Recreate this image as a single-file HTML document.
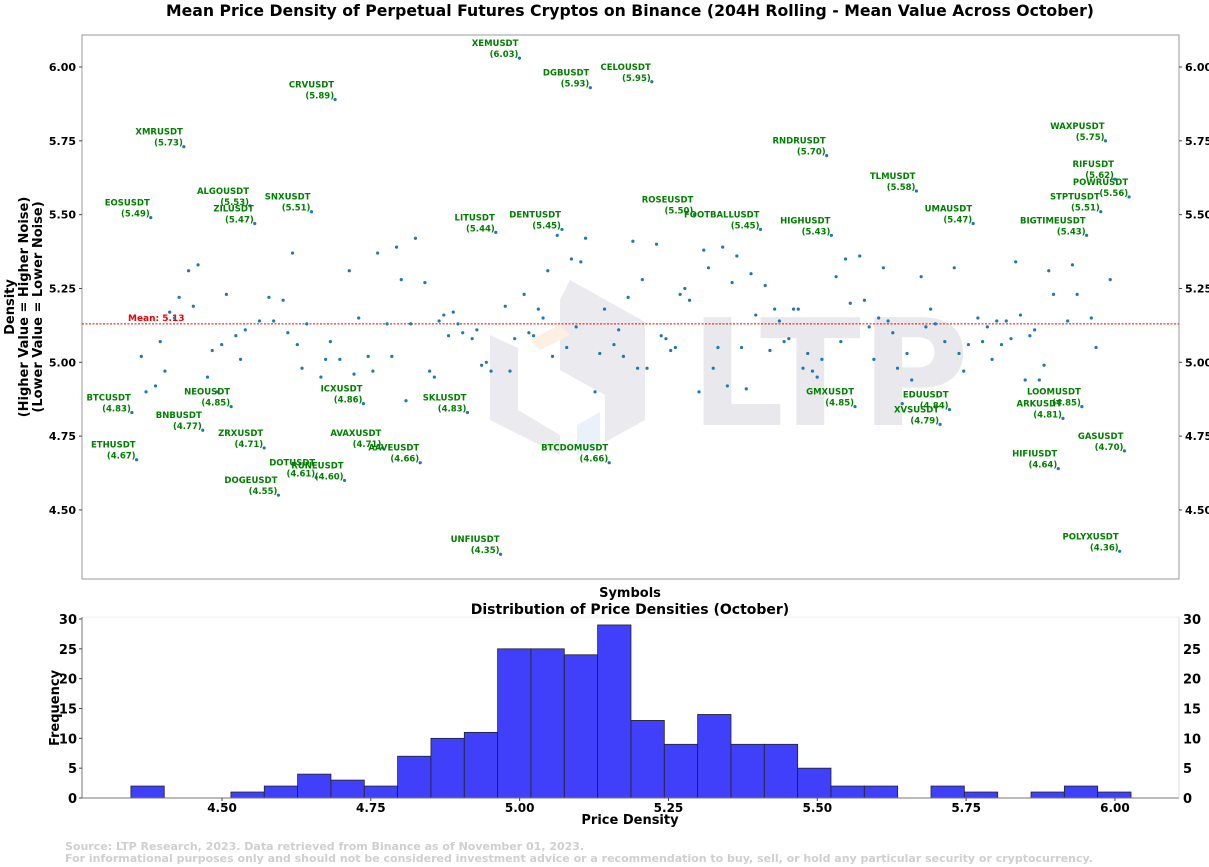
<!DOCTYPE html>
<html><head><meta charset="utf-8"><style>
html,body{margin:0;padding:0;background:#fff}
svg{display:block;font-family:"DejaVu Sans","Liberation Sans",sans-serif}
</style></head><body>
<svg id="chart" width="1209" height="867" viewBox="0 0 1209 867" xmlns="http://www.w3.org/2000/svg">
<text x="630" y="16" text-anchor="middle" font-size="15.7" font-weight="bold">Mean Price Density of Perpetual Futures Cryptos on Binance (204H Rolling - Mean Value Across October)</text>
<g opacity="0.9">
<polygon points="570,280 645,322 645,420 605,442 605,395 560,370 560,300" fill="#e8e8ee"/>
<polygon points="490,335 518,348 518,410 560,435 560,455 490,420" fill="#e8e8ee"/>
<polygon points="530,340 560,325 570,335 540,350" fill="#fdeede"/>
<polygon points="577,425 600,412 600,448 577,455" fill="#e8f0fb"/>
<text x="690" y="425" font-size="148" font-weight="bold" fill="#e6e6ec">LTP</text>
</g>
<g id="scatter"></g>
<g id="hist"></g>
<text transform="translate(14,307) rotate(-90)" text-anchor="middle" font-size="13" font-weight="bold"><tspan x="0" dy="0">Density</tspan><tspan x="0" dy="14">(Higher Value = Higher Noise)</tspan><tspan x="0" dy="14">(Lower Value = Lower Noise)</tspan></text>
<text x="630" y="597" text-anchor="middle" font-size="13" font-weight="bold">Symbols</text>
<text x="630" y="614" text-anchor="middle" font-size="14" font-weight="bold">Distribution of Price Densities (October)</text>
<text transform="translate(59,708) rotate(-90)" text-anchor="middle" font-size="13" font-weight="bold">Frequency</text>
<text x="630" y="824" text-anchor="middle" font-size="13" font-weight="bold">Price Density</text>
<text x="65" y="850" font-size="11" font-weight="bold" fill="#cfcfcf">Source: LTP Research, 2023. Data retrieved from Binance as of November 01, 2023.</text>
<text x="65" y="862" font-size="11" font-weight="bold" fill="#cfcfcf">For informational purposes only and should not be considered investment advice or a recommendation to buy, sell, or hold any particular security or cryptocurrency.</text>
</svg>
<script>
const values=[4.83,4.67,5.02,4.90,5.49,4.92,5.07,4.97,5.17,5.15,
5.22,5.73,5.31,5.19,5.33,4.77,4.95,5.04,4.90,5.06,
5.23,4.85,5.09,5.01,5.11,5.53,5.47,5.14,4.71,5.22,
5.14,4.55,5.21,5.10,5.37,5.06,4.98,5.13,5.51,4.61,
4.95,5.01,5.07,5.89,5.01,4.60,5.31,4.96,5.15,4.86,
5.02,4.97,5.37,4.71,5.13,5.02,5.39,5.28,4.87,5.13,
5.42,4.66,5.27,4.97,4.95,5.14,5.16,5.09,5.17,5.13,
5.10,4.83,5.08,5.11,4.99,5.00,4.97,5.44,4.35,5.19,
4.97,5.08,6.03,5.23,5.10,5.09,5.18,5.15,5.31,5.02,
5.43,5.45,5.05,5.35,5.12,5.34,5.42,5.93,4.90,5.03,
5.18,4.66,5.06,5.11,5.02,5.22,5.41,4.98,5.28,4.98,
5.95,5.40,5.09,5.08,5.04,5.05,5.23,5.25,5.21,5.50,
4.90,5.38,5.32,4.98,5.05,5.39,4.92,5.27,5.36,5.05,
4.91,5.30,5.16,5.45,5.26,5.04,5.18,5.14,5.07,5.08,
5.18,5.18,4.98,5.03,4.97,4.95,5.01,5.70,5.43,5.29,
5.07,5.35,5.20,4.85,5.36,5.21,5.12,5.01,5.15,5.32,
5.14,5.10,4.98,4.86,5.03,4.94,5.58,5.29,5.12,5.18,
5.13,4.79,5.07,4.84,5.32,5.03,4.97,5.06,5.47,5.15,
5.07,5.12,5.01,5.14,5.06,5.14,5.08,5.34,5.16,4.94,
5.09,5.11,4.94,4.99,5.31,5.23,4.64,4.81,5.14,5.33,
5.23,4.85,5.43,5.15,5.05,5.51,5.75,5.28,5.62,4.36,
4.70,5.56];
const labels={0:"BTCUSDT",1:"ETHUSDT",4:"EOSUSDT",11:"XMRUSDT",15:"BNBUSDT",21:"NEOUSDT",25:"ALGOUSDT",26:"ZILUSDT",28:"ZRXUSDT",31:"DOGEUSDT",38:"SNXUSDT",39:"DOTUSDT",43:"CRVUSDT",45:"RUNEUSDT",49:"ICXUSDT",53:"AVAXUSDT",61:"AAVEUSDT",71:"SKLUSDT",77:"LITUSDT",78:"UNFIUSDT",82:"XEMUSDT",91:"DENTUSDT",97:"DGBUSDT",101:"BTCDOMUSDT",110:"CELOUSDT",119:"ROSEUSDT",133:"FOOTBALLUSDT",147:"RNDRUSDT",148:"HIGHUSDT",153:"GMXUSDT",166:"TLMUSDT",171:"XVSUSDT",173:"EDUUSDT",178:"UMAUSDT",196:"HIFIUSDT",197:"ARKUSDT",201:"LOOMUSDT",202:"BIGTIMEUSDT",205:"STPTUSDT",206:"WAXPUSDT",208:"RIFUSDT",209:"POLYXUSDT",210:"GASUSDT",211:"POWRUSDT"};
const yTicks=[4.50,4.75,5.00,5.25,5.50,5.75,6.00];
const meanValue=5.13;
const histCounts=[2,0,0,1,2,4,3,2,7,10,11,25,25,24,29,13,9,14,9,9,5,2,2,0,2,1,0,1,2,1];
const histMin=4.347, histMax=6.027;
const histXTicks=[4.50,4.75,5.00,5.25,5.50,5.75,6.00];
const histYTicks=[0,5,10,15,20,25,30];
const NS="http://www.w3.org/2000/svg";
function mk(tag,attrs,parent){const e=document.createElementNS(NS,tag);for(const k in attrs)e.setAttribute(k,attrs[k]);parent.appendChild(e);return e;}
const A={l:82,r:1179,t:35,b:579};
const yS=v=>67+(6-v)*295.3;
const n=values.length;
const xS=i=>A.l+(A.r-A.l)*(0.05*(n-1)+i)/((n-1)*1.1);
const sc=document.getElementById('scatter');
const frame=mk('rect',{x:A.l,y:A.t,width:A.r-A.l,height:A.b-A.t,fill:'none',stroke:'#999','stroke-width':1},sc);


yTicks.forEach(t=>{const y=yS(t);
 const a=mk('text',{x:A.l-6,y:y+4,'text-anchor':'end','font-size':11,'font-weight':'bold'},sc);a.textContent=t.toFixed(2);
 
 
 const b=mk('text',{x:A.r+6,y:y+4,'font-size':11,'font-weight':'bold'},sc);b.textContent=t.toFixed(2);
 
 
 mk('line',{x1:A.l-3,x2:A.l,y1:y,y2:y,stroke:'#444'},sc);mk('line',{x1:A.r,x2:A.r+3,y1:y,y2:y,stroke:'#444'},sc);
});
const ml=mk('line',{x1:A.l,x2:A.r,y1:yS(meanValue),y2:yS(meanValue),stroke:'#e00','stroke-width':1,'stroke-dasharray':'2,1.5'},sc);


const mt=mk('text',{x:128,y:yS(meanValue)-3,fill:'#e00','font-size':9,'font-weight':'bold'},sc);mt.textContent='Mean: '+meanValue.toFixed(2);


values.forEach((v,i)=>{
 const c=mk('circle',{cx:xS(i),cy:yS(v),r:1.6,fill:'#1f77b4'},sc);
 
 
 if(labels[i]){
  const t=mk('text',{'text-anchor':'end','font-size':8.5,'font-weight':'bold',fill:'#008000'},sc);
  
  
  const x=xS(i)-1,y=yS(v)-1;
  const s1=mk('tspan',{x:x,y:y-11},t);s1.textContent=labels[i];
  const s2=mk('tspan',{x:x,y:y},t);s2.textContent='('+v.toFixed(2)+')';
 }
});
const H={l:82,r:1179,t:617,b:798};
const hx=v=>222+(v-4.5)*595.3;
const hy=c=>798-c*5.967;
const hg=document.getElementById('hist');
mk('line',{x1:H.l,x2:H.r,y1:H.t,y2:H.t,stroke:'#eee'},hg);
const bw=(histMax-histMin)/histCounts.length;
histCounts.forEach((c,i)=>{if(!c)return;const x0=hx(histMin+i*bw),x1=hx(histMin+(i+1)*bw);
 const r=mk('rect',{x:x0,y:hy(c),width:x1-x0,height:hy(0)-hy(c),fill:'#4040fa',stroke:'#222','stroke-width':0.8},hg);
 
 
});
mk('line',{x1:H.l,x2:H.r,y1:H.b,y2:H.b,stroke:'#777'},hg);
mk('line',{x1:H.l,x2:H.l,y1:H.t,y2:H.b,stroke:'#777'},hg);
mk('line',{x1:H.r,x2:H.r,y1:H.t,y2:H.b,stroke:'#ddd'},hg);
histYTicks.forEach(t=>{const y=hy(t);
 const a=mk('text',{x:H.l-5,y:y+5,'text-anchor':'end','font-size':13,'font-weight':'bold'},hg);a.textContent=t;
 
 
 const b=mk('text',{x:H.r+4,y:y+5,'font-size':13,'font-weight':'bold'},hg);b.textContent=t;
 
 
 mk('line',{x1:H.l-3,x2:H.l,y1:y,y2:y,stroke:'#444'},hg);
});
histXTicks.forEach(t=>{const x=hx(t);
 const a=mk('text',{x:x,y:H.b+14,'text-anchor':'middle','font-size':12,'font-weight':'bold'},hg);a.textContent=t.toFixed(2);
 
 
 mk('line',{x1:x,x2:x,y1:H.b,y2:H.b+3,stroke:'#444'},hg);
});
</script>
</body></html>
